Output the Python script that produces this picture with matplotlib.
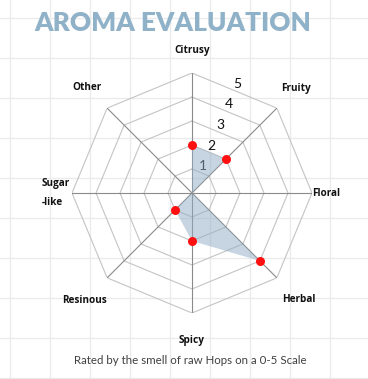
import numpy as np
import matplotlib
matplotlib.use("Agg")
import matplotlib.pyplot as plt

categories = ['Citrusy', 'Fruity', 'Floral', 'Herbal', 'Spicy', 'Resinous', 'Sugar\n-like', 'Other']
values = [2, 2, 0, 4, 2, 1, 0, 0]
scale_ticks = [1, 2, 3, 4, 5]
title = 'AROMA EVALUATION'
subtitle = 'Rated by the smell of raw Hops on a 0-5 Scale'

W, H = 368, 379
DPI = 100
fig = plt.figure(figsize=(W / DPI, H / DPI), dpi=DPI)
fig.patch.set_facecolor('white')

# spreadsheet-like background grid
bg = fig.add_axes([0, 0, 1, 1])
bg.set_xlim(0, W)
bg.set_ylim(H, 0)
bg.set_xticks(np.arange(10, W + 1, 40))
bg.set_yticks(np.arange(18, H + 1, 40))
bg.grid(True, color='#ebebeb', lw=1.0)
bg.tick_params(length=0, labelbottom=False, labelleft=False)
for s in bg.spines.values():
    s.set_visible(False)
bg.set_zorder(0)

# radar axes
cx, cy, R = 192, 193, 120
ax = fig.add_axes([(cx - R) / W, (H - cy - R) / H, 2 * R / W, 2 * R / H], projection='polar')
ax.set_zorder(1)
ax.patch.set_alpha(0)
ax.set_theta_zero_location('N')
ax.set_theta_direction(-1)
ax.set_ylim(0, 5)
ax.grid(False)
ax.set_xticks([])
ax.set_yticks([])
ax.spines['polar'].set_visible(False)

n = len(categories)
theta = np.arange(n) * 2 * np.pi / n
theta_closed = np.append(theta, theta[0])

# octagon gridlines
for lvl in scale_ticks:
    ax.plot(theta_closed, [lvl] * (n + 1), color='#c4c4c4', lw=0.8, zorder=1)
# spokes
for t in theta:
    ax.plot([t, t], [0, 5], color='#8a8a8a', lw=0.8, zorder=1)

# scale labels
for v in scale_ticks:
    ax.text(np.pi / 8, v * 0.93 + 0.28, str(v), ha='center', va='center',
            fontsize=10, family='Lato', color='#111111', zorder=2)

# data
vals_closed = np.append(values, values[0])
ax.fill(theta_closed, vals_closed, color='#8fadc4', alpha=0.5, lw=0, zorder=3)
nz = [i for i, v in enumerate(values) if v > 0]
ax.plot(theta[nz], np.array(values)[nz], 'o', color='#ff1010', ms=6.5, mec='none', zorder=4)

# category labels
label_r = [5.92, 6.15, 5.6, 6.3, 6.15, 6.36, 5.67, 6.2]
for t, lab, r in zip(theta, categories, label_r):
    ax.text(t, r, lab, ha='center', va='center', fontsize=7.2, fontweight='bold',
            family='Open Sans', color='#111111', clip_on=False,
            linespacing=1.9, multialignment='left')

fig.text(173 / W, 1 - 23 / H, title, ha='center', va='center', fontsize=18.8,
         fontweight='heavy', family='Lato', color='#8fb2c8')
fig.text(190 / W, 1 - 360 / H, subtitle, ha='center', va='center', fontsize=8.3,
         family='Lato', color='#404040')

fig.savefig('out.png', dpi=DPI, facecolor='white')
